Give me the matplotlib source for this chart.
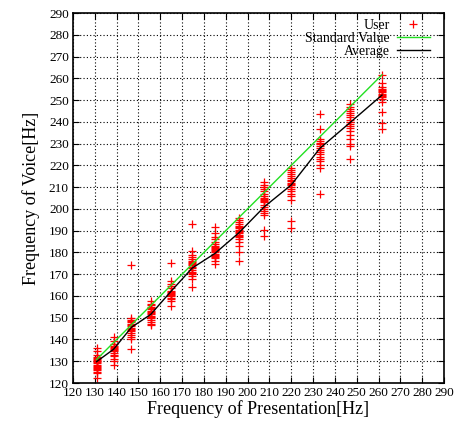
import matplotlib
matplotlib.use("Agg")
import matplotlib.pyplot as plt
import numpy as np

plt.rcParams['font.family'] = ['Liberation Serif', 'DejaVu Serif']

notes = [130.8, 138.6, 146.8, 155.6, 164.8, 174.6, 185.0, 196.0, 207.7, 220.0, 233.1, 246.9, 261.6]

user_130 = [136, 134.5, 133, 132, 131.5, 131, 130.5, 130, 129.5, 129, 128.5, 128, 127.5, 127, 126.5, 126, 125, 124.5, 122.5]
user_138 = [141, 139.5, 138, 137, 136.5, 136, 135.5, 135, 134.5, 134, 133, 132.5, 131, 130, 128.5]
user_146 = [174, 150, 149, 148.5, 148, 147, 146.5, 146, 145.5, 145, 144.5, 144, 143, 142, 141, 140, 135.5]
user_155 = [157.5, 156.5, 156, 155, 154.5, 154, 153, 152.5, 152, 151.5, 151, 150.5, 150, 149, 148, 147, 146.5]
user_164 = [175, 167, 165.5, 164.5, 163.5, 162.5, 162, 161.5, 161, 160.5, 160, 159, 158.5, 157.5, 155.5]
user_174 = [193, 180.5, 179, 178, 177, 176, 175.5, 175, 174.5, 174, 173.5, 173, 172, 171, 170.5, 170, 169, 168, 164]
user_185 = [191.5, 189, 187, 186, 185, 184, 183, 182.5, 182, 181.5, 181, 180.5, 180, 179.5, 179, 178.5, 178, 177.5, 176, 174.5]
user_196 = [196, 195, 194, 193, 192, 191.5, 191, 190.5, 190, 189.5, 189, 188, 187.5, 187, 186, 185, 183, 180, 176]
user_207 = [212.5, 211, 210, 209, 208, 207, 206, 205, 204.5, 204, 203.5, 203, 202, 201, 200, 199, 198, 197, 190.5, 187.5]
user_220 = [219, 218, 217, 216, 215, 214, 213.5, 213, 212, 211.5, 211, 210, 209, 208, 207, 206, 204, 194.5, 191]
user_233 = [243.5, 236.5, 232, 231, 230.5, 230, 229, 228, 227, 226, 225, 224, 223, 222, 220, 219, 207]
user_246 = [248, 247, 246, 245, 244, 243, 242, 241, 240, 239, 238, 237, 236, 234, 232, 230, 229, 223]
user_261 = [261.5, 258, 256, 255, 254.5, 254, 253.5, 253, 252.5, 252, 251.5, 250.5, 249, 244.5, 239.5, 236.5]

user_values = [user_130, user_138, user_146, user_155, user_164, user_174, user_185,
               user_196, user_207, user_220, user_233, user_246, user_261]

average = [129.8, 135.5, 145.6, 151.5, 162.0, 172.8, 179.5, 189.0, 201.0, 211.0, 227.8, 239.6, 252.3]

ticks = list(range(120, 291, 10))

fig = plt.figure(figsize=(4.61, 4.25), dpi=100)
ax = fig.add_axes([73/461, 1-383/425, (444-73)/461, (383-13)/425])

ux = []
uy = []
for n, vals in zip(notes, user_values):
    ux.extend([n]*len(vals))
    uy.extend(vals)

ax.plot(ux, uy, linestyle='none', marker='+', color='red', markersize=5.5, mew=0.9, label='User')
ax.plot(notes, notes, color='#22e022', lw=1.0, label='Standard Value')
ax.plot(notes, average, color='black', lw=1.0, label='Average')

ax.set_xlim(120, 290)
ax.set_ylim(120, 290)
ax.set_xticks(ticks)
ax.set_yticks(ticks)
ax.tick_params(direction='in', top=True, right=True, length=4, width=0.8, labelsize=9.5, pad=3)
ax.grid(True, linestyle=(0, (1, 2)), color='black', lw=0.8)
for s in ax.spines.values():
    s.set_linewidth(1.2)

ax.set_xlabel('Frequency of Presentation[Hz]', fontsize=13, labelpad=1)
ax.set_ylabel('Frequency of Voice[Hz]', fontsize=13, labelpad=6)

leg = ax.legend(loc='upper right', frameon=False, markerfirst=False, numpoints=1,
                fontsize=10, handlelength=2.4, handletextpad=0.5, labelspacing=0.0,
                borderaxespad=0.0, borderpad=0.0,
                bbox_to_anchor=(1 - 14/371, 1 - 6/370))

fig.savefig('out.png', dpi=100)
